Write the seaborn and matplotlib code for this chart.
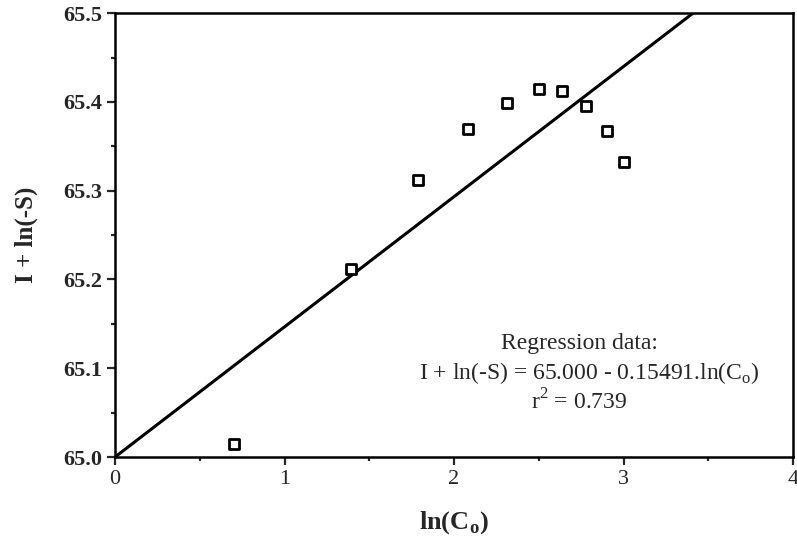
import matplotlib
matplotlib.use('Agg')

import numpy as np
import pandas as pd
import seaborn as sns
import matplotlib.pyplot as plt
from matplotlib.ticker import MultipleLocator

ln_c0 = [0.70, 1.39, 1.79, 2.08, 2.31, 2.50, 2.64, 2.78, 2.90, 3.00]
i_ln_s = [65.015, 65.212, 65.312, 65.369, 65.399, 65.414, 65.412, 65.395, 65.367, 65.332]

# regression line as drawn (end points)
fit_x = [0.0, 3.41]
fit_y = [65.0, 65.5]

x_ticks = [0, 1, 2, 3, 4]
y_ticks = [65.0, 65.1, 65.2, 65.3, 65.4, 65.5]

reg_lines = ["Regression data:",
             "I + ln(-S) = 65.000 - 0.15491.ln(C$_\\mathregular{o}$)",
             "r$^\\mathregular{2}$ = 0.739"]

sns.set_style("ticks")
plt.rcParams['font.family'] = ['Liberation Serif', 'DejaVu Serif']
plt.rcParams['mathtext.fontset'] = 'custom'
plt.rcParams['mathtext.rm'] = 'Liberation Serif'
plt.rcParams['mathtext.bf'] = 'Liberation Serif:bold'

pts = pd.DataFrame({'x': ln_c0, 'y': i_ln_s})
fit = pd.DataFrame({'x': fit_x, 'y': fit_y})

fig = plt.figure(figsize=(7.97, 5.48), dpi=100)
ax = fig.add_axes([0.1443, 0.166, 0.8507, 0.810])

sns.lineplot(data=fit, x='x', y='y', color='black', linewidth=2.2, ax=ax)
sns.scatterplot(data=pts, x='x', y='y', marker='s', s=50, facecolor='white',
                edgecolor='black', linewidth=2.0, ax=ax, zorder=3)

ax.set_xlim(0, 4)
ax.set_ylim(65.0, 65.5)
ax.set_xticks(x_ticks)
ax.set_xticklabels([str(t) for t in x_ticks])
ax.set_yticks(y_ticks)
ax.set_yticklabels(['%.1f' % t for t in y_ticks])
ax.xaxis.set_minor_locator(MultipleLocator(0.5))
ax.yaxis.set_minor_locator(MultipleLocator(0.05))
ax.tick_params(which='major', length=6, width=1.6, labelsize=16, direction='out')
ax.tick_params(which='minor', length=3, width=1.6, direction='out')
for lab in ax.get_yticklabels():
    lab.set_fontweight('bold')

for sp in ax.spines.values():
    sp.set_linewidth(1.8)
    sp.set_color('black')

ax.set_xlabel("ln(C$_\\mathbf{o}$)", fontsize=19, fontweight='bold', labelpad=14)
ax.set_ylabel("I + ln(-S)", fontsize=18, fontweight='bold', labelpad=18)

ax.text(2.74, 65.128, reg_lines[0], ha='center', va='center', fontsize=17)
ax.text(2.80, 65.095, reg_lines[1], ha='center', va='center', fontsize=17)
ax.text(2.74, 65.062, reg_lines[2], ha='center', va='center', fontsize=17)

fig.savefig('out.png', dpi=100)
